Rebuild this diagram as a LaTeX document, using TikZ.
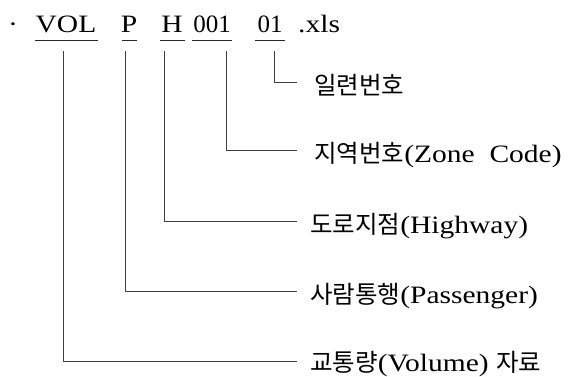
\documentclass[tikz,border=0pt]{standalone}
\usepackage{fontspec}
\setmainfont{Liberation Serif}[FakeStretch=1.18]
\newfontfamily\digits{Liberation Serif}
\newfontfamily\kr{Noto Sans CJK KR}[Scale=0.98]
\begin{document}
\begin{tikzpicture}[x=1pt,y=-1pt,
  tok/.style={anchor=base,inner sep=0pt,font=\fontsize{25}{30}\selectfont},
  lbl/.style={anchor=base west,inner sep=0pt,font=\fontsize{25}{30}\selectfont},
  uline/.style={line width=1pt,draw=black!85},
  conn/.style={line width=1pt,draw=black!75}]
\useasboundingbox (0,0) rectangle (574,377);
% top line
\node[tok] (dot) at (13,33) {·};
\node[tok] (vol) at (66,33) {VOL};
\node[tok] (p) at (129,33) {P};
\node[tok] (h) at (172,33) {H};
\node[tok] (z) at (212,33) {\digits 001};
\node[tok] (s) at (270,33) {\digits 01};
\node[tok,anchor=base west] (xls) at (298,33) {.xls};
% underlines
\draw[uline] (35,41) -- (98,41);
\draw[uline] (122,41) -- (137,41);
\draw[uline] (160,41) -- (185,41);
\draw[uline] (192,41) -- (232,41);
\draw[uline] (255,41) -- (285,41);
% connector tops
\coordinate (tv) at (63,51);
\coordinate (tp) at (125,51);
\coordinate (th) at (164,51);
\coordinate (tz) at (226,51);
\coordinate (ts) at (274,51);
% connector ends
\coordinate (es) at (297,83);
\coordinate (ez) at (297,151);
\coordinate (eh) at (297,222);
\coordinate (ep) at (297,292);
\coordinate (ev) at (297,362);
\draw[conn] (ts) |- (es);
\draw[conn] (tz) |- (ez);
\draw[conn] (th) |- (eh);
\draw[conn] (tp) |- (ep);
\draw[conn] (tv) |- (ev);
% labels
\node[lbl] (ls) at (314,95) {\kr 일련번호};
\node[lbl] (lz) at (314,163) {{\kr 지역번호}(Zone\ \ Code)};
\node[lbl] (lh) at (310,234) {{\kr 도로지점}(Highway)};
\node[lbl] (lp) at (310,304) {{\kr 사람통행}(Passenger)};
\node[lbl] (lv) at (310,372) {{\kr 교통량}(Volume)\ {\kr 자료}};
\end{tikzpicture}
\end{document}
